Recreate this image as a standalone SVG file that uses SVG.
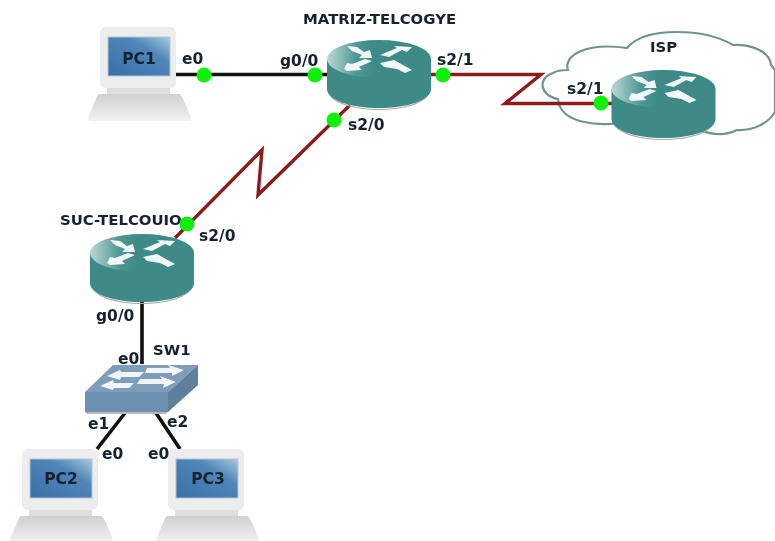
<svg xmlns="http://www.w3.org/2000/svg" width="775" height="541" viewBox="0 0 775 541">
<style>
text{font-family:"DejaVu Sans",Verdana,sans-serif;font-weight:700;font-size:14.900px;fill:#15202e;filter:url(#soft)}
.p{font-size:15.500px}
.pc{font-size:15.500px;text-anchor:middle}
.k{stroke:#111;stroke-width:3.6;fill:none}
.s{stroke:#8a1c1c;stroke-width:3.4;fill:none;stroke-linejoin:miter}
.d{fill:#0cf00c}
</style>
<defs>
<linearGradient id="rt" x1="0" x2="1" y1="0" y2="0"><stop offset="0" stop-color="#bcd8d6"/><stop offset="0.28" stop-color="#4f9794"/><stop offset="0.45" stop-color="#3d8a87"/><stop offset="1" stop-color="#3d8a87"/></linearGradient>
<linearGradient id="scr" x1="0" x2="1" y1="1" y2="0"><stop offset="0" stop-color="#3a70a6"/><stop offset="0.65" stop-color="#4f85b8"/><stop offset="1" stop-color="#a9c8de"/></linearGradient>
<linearGradient id="base" x1="0" x2="0" y1="0" y2="1"><stop offset="0" stop-color="#d0d0d0"/><stop offset="1" stop-color="#f2f2f2"/></linearGradient>
<filter id="soft" x="-5%" y="-15%" width="110%" height="130%"><feGaussianBlur stdDeviation="0.35"/></filter>
<g id="router">
<path d="M1 52C6 62 26 69 52 69S98 62 103 52C100 63 78 70 52 70S4 63 1 52Z" fill="#aaa"/>
<path d="M0 19V49C0 60 23 68 52 68S104 60 104 49V19Z" fill="#3d8a87"/>
<ellipse cx="52" cy="19" rx="52" ry="19" fill="url(#rt)"/>
<g fill="#f2f7f7">
<path d="M20 6L30 7L37 12L43 10L45 18L32 18L35 15L25 11Z"/>
<path d="M53 15L70 8L67 6L85 7L80 12L75 10L62 17Z"/>
<path d="M17 29L20 23L25 24L38 19L45 21L32 27L35 30L20 31Z"/>
<path d="M53 23L67 20L85 30L78 33L70 29L57 27Z"/>
</g>
</g>
<g id="pc">
<rect x="-1" y="0" width="76" height="61" rx="6" fill="#ededed"/>
<rect x="7" y="10" width="62" height="39" fill="url(#scr)" stroke="#b4c6d4"/>
<path d="M6 61H69V67H6Z" fill="#dedede"/>
<path d="M-1 67H77C80 67 81 70 83 74L89 88C91 92 89 94 85 94H-9C-13 94 -14 92 -12 88L-6 74C-4 70 -4 67 -1 67Z" fill="url(#base)"/>
</g>
</defs>
<g id="ISP-cloud">
<path d="M558 99C540 96 537 78 553 73C556 71 562 70 568 70C563 56 585 42 627 48C636 37 655 32 677 32C697 32 716 35 733 45C752 44 770 52 771 65L775 70V112C768 124 752 131 737 130C725 136 712 135 700 130L625 122C600 127 560 124 558 99Z" fill="#fff" stroke="#6f9493" stroke-width="2.200"/>
</g>
<g id="connectors">
<path class="k" d="M176 74.500H327"/>
<path class="s" d="M431 74.500H541L505 103.500H612"/>
<path class="s" d="M350 105L258 195L262 150L175 238"/>
<path class="k" d="M142 302V364"/>
<path class="k" d="M125 413L97 449"/>
<path class="k" d="M156 413L180 449"/>
</g>
<g id="ISP">
<use href="#router" x="611.500" y="70"/>
<text x="650" y="52">ISP</text>
</g>
<g id="PC1"><use href="#pc" x="101" y="27"/><text class="pc" x="139" y="64">PC1</text></g>
<g id="MATRIZ-TELCOGYE"><use href="#router" x="327" y="40"/><text x="303" y="24">MATRIZ-TELCOGYE</text></g>
<g id="SUC-TELCOUIO"><use href="#router" x="90" y="234"/><text x="60" y="225">SUC-TELCOUIO</text></g>
<g id="SW1">
<path d="M85 392H168L198 365H113Z" fill="#7d9db9"/>
<path d="M168 392L198 365V385L168 412Z" fill="#5f7f9a"/>
<rect x="85" y="392" width="83" height="20" fill="#6c90b2"/>
<path d="M85 412H168L166 414H87Z" fill="#b9b9b9"/>
<g fill="#f2f5f8">
<path d="M107 376L120 370L121 372H144L139 377H121L120 380Z"/>
<path d="M147 368H170L168 365L184 370L172 376V373H145Z"/>
<path d="M100 386L113 380L114 383H134L129 388H114L113 390Z"/>
<path d="M140 379H162L160 376L176 382L163 388L164 384H137Z"/>
</g>
<text x="153" y="355">SW1</text>
</g>
<g id="PC2"><use href="#pc" x="23" y="449"/><text class="pc" x="61" y="484">PC2</text></g>
<g id="PC3"><use href="#pc" x="169" y="449"/><text class="pc" x="208" y="484">PC3</text></g>
<g id="ports">
<circle class="d" cx="204" cy="75" r="7.500"/>
<circle class="d" cx="315" cy="75" r="7.500"/>
<circle class="d" cx="443" cy="75" r="7.500"/>
<circle class="d" cx="601" cy="103" r="7.500"/>
<circle class="d" cx="334" cy="120" r="7.500"/>
<circle class="d" cx="187" cy="224" r="7.500"/>
<text class="p" x="182" y="64">e0</text>
<text class="p" x="280" y="66">g0/0</text>
<text class="p" x="437" y="65">s2/1</text>
<text class="p" x="567" y="94">s2/1</text>
<text class="p" x="348" y="130">s2/0</text>
<text class="p" x="199" y="241">s2/0</text>
<text class="p" x="96" y="321">g0/0</text>
<text class="p" x="118" y="364">e0</text>
<text class="p" x="88" y="429">e1</text>
<text class="p" x="167" y="427">e2</text>
<text class="p" x="102" y="459">e0</text>
<text class="p" x="148" y="459">e0</text>
</g>
</svg>
